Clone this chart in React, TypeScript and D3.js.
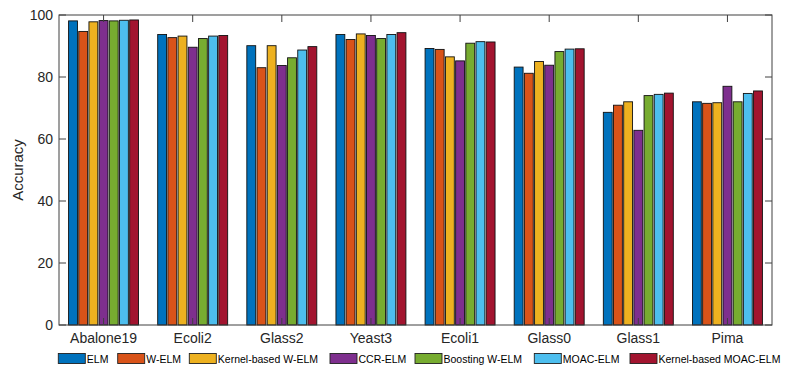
import { useEffect, useRef } from "react";
import * as d3 from "d3";

const datasets = ["Abalone19", "Ecoli2", "Glass2", "Yeast3", "Ecoli1", "Glass0", "Glass1", "Pima"];
const methods = ["ELM", "W-ELM", "Kernel-based W-ELM", "CCR-ELM", "Boosting W-ELM", "MOAC-ELM", "Kernel-based MOAC-ELM"];
const colors = ["#0072BD", "#D95319", "#EDB120", "#7E2F8E", "#77AC30", "#4DBEEE", "#A2142F"];

// one row per dataset, one value per method
const elm = [98.1, 93.7, 90.1, 93.7, 89.2, 83.2, 68.6, 72.0];
const welm = [94.7, 92.7, 83.0, 92.1, 88.9, 81.2, 70.9, 71.5];
const kwelm = [97.8, 93.2, 90.1, 93.9, 86.5, 85.0, 72.0, 71.7];
const ccrelm = [98.2, 89.6, 83.7, 93.4, 85.2, 83.8, 62.8, 77.0];
const boostwelm = [98.1, 92.4, 86.2, 92.4, 90.9, 88.2, 74.0, 72.0];
const moacelm = [98.3, 93.2, 88.7, 93.7, 91.4, 89.0, 74.4, 74.7];
const kmoacelm = [98.4, 93.4, 89.8, 94.3, 91.3, 89.1, 74.8, 75.5];
const series = [elm, welm, kwelm, ccrelm, boostwelm, moacelm, kmoacelm];

const yTicks = [0, 20, 40, 60, 80, 100];

// legend swatch left edges
const legendX = [58.3, 117.7, 189.3, 330, 415, 534.3, 630];

export default function App() {
  const ref = useRef<SVGSVGElement>(null);

  useEffect(() => {
    const svg = d3.select(ref.current);
    svg.selectAll("*").remove();

    const margin = { top: 15, right: 15, bottom: 44, left: 59 };
    const width = 787;
    const height = 369;
    const font = "'Liberation Sans', Arial, sans-serif";

    const x0 = d3.scaleBand().domain(datasets).range([margin.left, width - margin.right]).paddingInner(0).paddingOuter(0);
    const groupW = x0.bandwidth() * 0.785;
    const x1 = d3.scaleBand().domain(methods).range([0, groupW]).paddingInner(0.13).paddingOuter(0);
    const y = d3.scaleLinear().domain([0, 100]).range([height - margin.bottom, margin.top]);

    const g = svg.append("g");

    // bars
    datasets.forEach((ds, i) => {
      const gx = x0(ds)! + (x0.bandwidth() - groupW) / 2;
      methods.forEach((m, j) => {
        g.append("rect")
          .attr("x", gx + x1(m)!)
          .attr("y", y(series[j][i]))
          .attr("width", x1.bandwidth())
          .attr("height", y(0) - y(series[j][i]))
          .attr("fill", colors[j])
          .attr("stroke", "#111")
          .attr("stroke-width", 0.9);
      });
    });

    const axisColor = "#404040";
    const x0l = margin.left;
    const x1r = width - margin.right;
    const yb = y(0);
    const yt = y(100);

    // box
    g.append("rect")
      .attr("x", x0l).attr("y", yt)
      .attr("width", x1r - x0l).attr("height", yb - yt)
      .attr("fill", "none").attr("stroke", axisColor).attr("stroke-width", 1);

    // y ticks both sides
    yTicks.forEach((t) => {
      g.append("line").attr("x1", x0l).attr("x2", x0l + 7).attr("y1", y(t)).attr("y2", y(t)).attr("stroke", axisColor);
      g.append("line").attr("x1", x1r).attr("x2", x1r - 7).attr("y1", y(t)).attr("y2", y(t)).attr("stroke", axisColor);
      g.append("text")
        .attr("x", x0l - 6).attr("y", y(t)).attr("dy", "0.35em")
        .attr("text-anchor", "end")
        .attr("font-family", font).attr("font-size", 14).attr("fill", "#262626")
        .text(t);
    });

    // x ticks top and bottom
    datasets.forEach((ds) => {
      const cx = x0(ds)! + x0.bandwidth() / 2;
      g.append("line").attr("x1", cx).attr("x2", cx).attr("y1", yb).attr("y2", yb - 7).attr("stroke", axisColor);
      g.append("line").attr("x1", cx).attr("x2", cx).attr("y1", yt).attr("y2", yt + 7).attr("stroke", axisColor);
      g.append("text")
        .attr("x", cx).attr("y", yb + 18)
        .attr("text-anchor", "middle")
        .attr("font-family", font).attr("font-size", 14).attr("fill", "#262626")
        .text(ds);
    });

    // y label
    g.append("text")
      .attr("transform", `translate(23, ${(yb + yt) / 2}) rotate(-90)`)
      .attr("text-anchor", "middle")
      .attr("font-family", font).attr("font-size", 15).attr("fill", "#262626")
      .text("Accuracy");

    // legend
    const lg = svg.append("g");
    const ly = 353.5;
    methods.forEach((m, j) => {
      const lx = legendX[j];
      lg.append("rect")
        .attr("x", lx).attr("y", ly)
        .attr("width", 27).attr("height", 10)
        .attr("fill", colors[j]).attr("stroke", "#222").attr("stroke-width", 0.9);
      lg.append("text")
        .attr("x", lx + 28.5).attr("y", ly + 9.5)
        .attr("font-family", font).attr("font-size", 10.5).attr("fill", "#000")
        .text(m);
    });
  }, []);

  return (
    <div style={{ position: "absolute", left: 0, top: 0 }}>
      <svg ref={ref} width={787} height={369} style={{ display: "block", background: "#fff" }}></svg>
    </div>
  );
}
